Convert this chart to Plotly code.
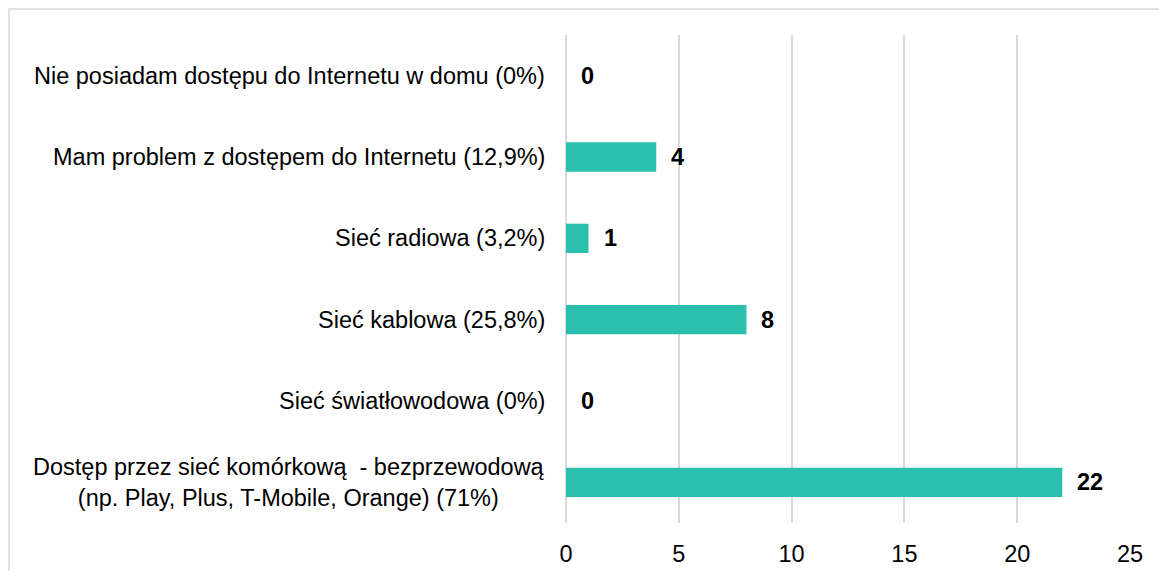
import plotly.graph_objects as go

categories = [
    "Nie posiadam dostępu do Internetu w domu (0%)",
    "Mam problem z dostępem do Internetu (12,9%)",
    "Sieć radiowa (3,2%)",
    "Sieć kablowa (25,8%)",
    "Sieć światłowodowa (0%)",
    "Dostęp przez sieć komórkową \u00a0- bezprzewodową<br>(np. Play, Plus, T-Mobile, Orange) (71%)",
]
values = [0, 4, 1, 8, 0, 22]
x_ticks = [0, 5, 10, 15, 20, 25]

# the page body has an 8px margin, so the figure starts at (8, 8)
W, H = 1151, 563
ML, MR, MT, MB = 558, 29, 27, 48
PW, PH = W - ML - MR, H - MT - MB

fig = go.Figure()
fig.add_trace(go.Bar(
    y=categories, x=values, orientation="h",
    marker=dict(color="#2BBFAD", line=dict(width=0)),
    hoverinfo="skip",
))

ann = []
for c, v in zip(categories, values):
    ann.append(dict(x=v, y=c, xref="x", yref="y", text=f"<b>{v}</b>",
                    showarrow=False, xanchor="left", xshift=13,
                    font=dict(family="Liberation Sans, Arial", size=23.5, color="#000000")))
    ann.append(dict(x=0, y=c, xref="paper", yref="y", text=c, align="center",
                    showarrow=False, xanchor="right", xshift=-19,
                    font=dict(family="Liberation Sans, Arial", size=23.5, color="#000000")))

# outer border of the chart area (left and top edges visible)
fig.add_shape(type="rect", xref="paper", yref="paper",
              x0=(1 - ML) / PW, x1=(W + 20 - ML) / PW,
              y0=-(MB + 20) / PH, y1=(H - MB - 1) / PH,
              line=dict(color="#D9D9D9", width=1.5), layer="below")

fig.update_layout(
    width=W, height=H,
    margin=dict(l=ML, r=MR, t=MT, b=MB, autoexpand=False),
    paper_bgcolor="white", plot_bgcolor="white",
    showlegend=False, bargap=0.64,
    annotations=ann,
    font=dict(family="Liberation Sans, Arial", color="#000000"),
    xaxis=dict(range=[0, 25], tickvals=x_ticks, showgrid=True,
               gridcolor="#D9D9D9", gridwidth=1.5, zeroline=True,
               zerolinecolor="#D9D9D9", zerolinewidth=1.5, showline=False,
               ticks="", ticklabelstandoff=14, automargin=False,
               tickfont=dict(size=23.5, color="#000000"), fixedrange=True),
    yaxis=dict(categoryorder="array", categoryarray=categories,
               autorange="reversed", showticklabels=False, showgrid=False,
               zeroline=False, showline=False, ticks="", fixedrange=True),
)

fig.write_html("out.html")
